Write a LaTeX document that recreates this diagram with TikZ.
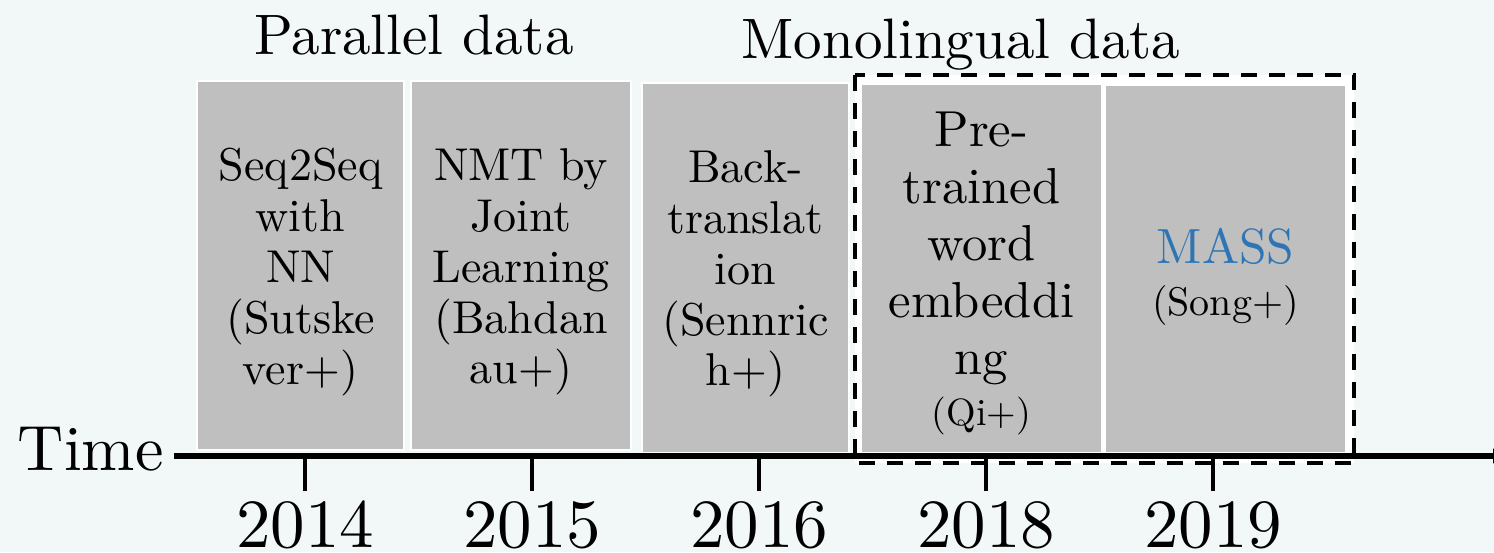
\documentclass[tikz,border=0pt]{standalone}
\usepackage{fontspec}
\setmainfont{lmroman10-regular.otf}
\usetikzlibrary{arrows.meta}
\definecolor{pagebg}{HTML}{F2F7F7}
\definecolor{cardgray}{HTML}{BFBFBF}
\definecolor{massblue}{HTML}{2E75B6}
\newcommand\fsz[2]{\fontsize{#1}{#2}\selectfont}

\begin{document}
\begin{tikzpicture}[x=0.5pt,y=-0.5pt,
  card/.style={fill=cardgray, draw=white, line width=1.2pt, inner sep=0pt},
  txt/.style={inner sep=0pt, align=center},
  cardtext/.style={txt, font=\fsz{23}{25.4}},
  title/.style={txt, anchor=base, font=\fsz{28.5}{30}},
  year/.style={txt, anchor=base, font=\fsz{34.5}{36}},
  axisline/.style={line width=2.6pt, -{Latex[length=8pt,width=8pt]}},
  tickline/.style={line width=1.6pt},
  monobox/.style={fill=white, draw=black, line width=2pt, dash pattern=on 8pt off 6pt}]

% page background and fixed frame
\fill[pagebg] (0,0) rectangle (1494,552);
\useasboundingbox (0,0) rectangle (1494,552);

% group titles
\node[title] (partitle) at (414,54) {Parallel data};
\node[title] (montitle) at (961,58) {Monolingual data};

% frame around the monolingual-data methods
\filldraw[monobox] (855,75) rectangle (1354,463);

% one card per method
\node[card, minimum width=103.5pt, minimum height=184.5pt] (c1) at (300.5,265.5) {};
\node[card, minimum width=110pt,   minimum height=184.5pt] (c2) at (521,265.5) {};
\node[card, minimum width=103.5pt, minimum height=185pt]   (c3) at (745.5,268) {};
\node[card, minimum width=120.5pt, minimum height=184.5pt] (c4) at (981.5,268.5) {};
\node[card, minimum width=120.5pt, minimum height=184pt]   (c5) at (1225.5,269) {};

\node[cardtext] (t1) at (300.5,272) {Seq2Seq\\with\\NN\\(Sutske\\ver+)};
\node[cardtext] (t2) at (521,272) {NMT by\\Joint\\Learning\\(Bahdan\\au+)};
\node[cardtext] (t3) at (745.5,274) {Back-\\translat\\ion\\(Sennric\\h+)};
\node[txt, font=\fsz{25.3}{28.5}] (t4) at (981.5,248.6) {Pre-\\trained\\word\\embeddi\\ng};
\node[txt, anchor=base, font=\fsz{19}{20}] (a4) at (981.5,425) {(Qi+)};
\node[txt, anchor=base, font=\fsz{24.7}{26}, text=massblue] (t5) at (1225.5,263) {MASS};
\node[txt, anchor=base, font=\fsz{20}{22}] (a5) at (1225.5,315) {(Song+)};

% time axis
\node[txt, anchor=base east, font=\fsz{32}{34}] (time) at (164,470) {Time};
\coordinate (axL) at (174,456);
\coordinate (axR) at (1509,456);
\draw[axisline] (axL) -- (axR);

% year ticks and labels
\foreach \yr/\xx in {2014/305, 2015/532, 2016/759, 2018/986, 2019/1213} {
  \coordinate (tk\yr) at (\xx,456);
  \coordinate (te\yr) at (\xx,491);
  \draw[tickline] (tk\yr) -- (te\yr);
  \node[year] (y\yr) at (\xx,547) {\yr};
}
\end{tikzpicture}
\end{document}
